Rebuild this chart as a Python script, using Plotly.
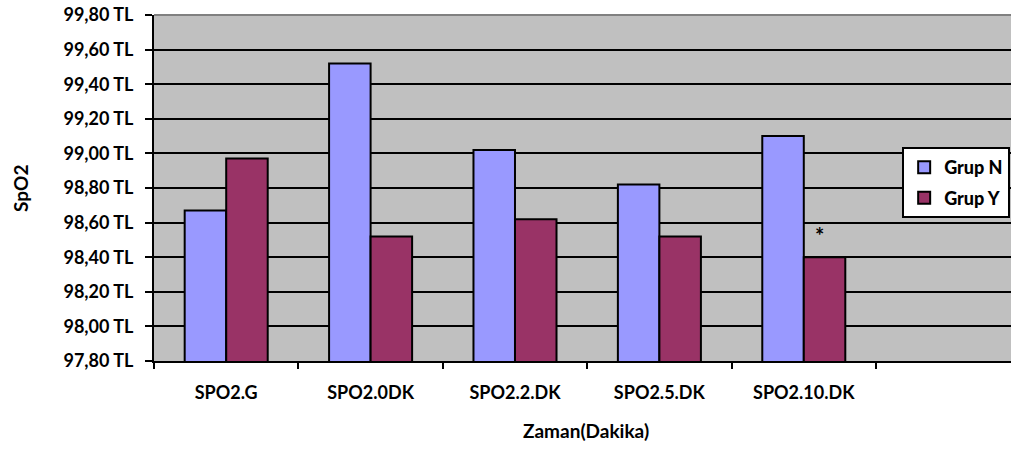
import plotly.graph_objects as go

categories = ["SPO2.G", "SPO2.0DK", "SPO2.2.DK", "SPO2.5.DK", "SPO2.10.DK"]
grup_n = [98.67, 99.52, 99.02, 98.82, 99.10]
grup_y = [98.97, 98.52, 98.62, 98.52, 98.40]
y_tick_vals = [97.8, 98.0, 98.2, 98.4, 98.6, 98.8, 99.0, 99.2, 99.4, 99.6, 99.8]
y_tick_text = ["97,80 TL", "98,00 TL", "98,20 TL", "98,40 TL", "98,60 TL", "98,80 TL",
               "99,00 TL", "99,20 TL", "99,40 TL", "99,60 TL", "99,80 TL"]
star_category = "SPO2.10.DK"

FONT = "Lato"
fs = 18

fig = go.Figure()
fig.add_trace(go.Bar(name="Grup N", x=categories, y=grup_n, legendgroup="n",
                     marker=dict(color="#9999FF", line=dict(color="black", width=2))))
fig.add_trace(go.Bar(name="Grup Y", x=categories, y=grup_y, legendgroup="y",
                     marker=dict(color="#993366", line=dict(color="black", width=2))))

star_idx = categories.index(star_category)
fig.add_annotation(x=star_idx + 0.11, y=grup_y[star_idx], xref="x", yref="y",
                   text="<b>*</b>", showarrow=False, yanchor="bottom", yshift=6,
                   font=dict(family=FONT, size=22, color="black"))

fig.add_annotation(x=-0.1564, y=0.5, xref="paper", yref="paper", text="<b>SpO2</b>",
                   textangle=-90, showarrow=False, xanchor="center", yanchor="middle",
                   font=dict(family=FONT, size=19, color="black"))
fig.add_annotation(x=0.504, y=-0.2, xref="paper", yref="paper", text="<b>Zaman(Dakika)</b>",
                   showarrow=False, xanchor="center", yanchor="middle",
                   font=dict(family=FONT, size=19, color="black"))

fig.add_shape(type="line", xref="paper", yref="paper", x0=0, x1=1, y0=1, y1=1,
              line=dict(color="#808080", width=2))

fig.update_layout(
    width=1011, height=449,
    margin=dict(l=154, r=0, t=15, b=88),
    paper_bgcolor="white", plot_bgcolor="#C0C0C0",
    barmode="group", bargap=0.425, bargroupgap=0,
    font=dict(family=FONT, size=fs, color="black"),
    showlegend=True,
    legend=dict(x=0.873, y=0.618, xanchor="left", yanchor="top",
                bgcolor="white", bordercolor="black", borderwidth=2,
                font=dict(family=FONT, size=fs, color="black", weight=900),
                itemwidth=30, tracegroupgap=4, traceorder="grouped"),
)
fig.update_xaxes(type="category", range=[-0.5, 5.435], tickson="boundaries",
                 ticks="outside", ticklen=6, tickwidth=2, tickcolor="black",
                 showline=True, linecolor="black", linewidth=2, showgrid=False,
                 ticklabelstandoff=14,
                 tickfont=dict(family=FONT, size=fs, color="black", weight="bold"))
fig.update_yaxes(range=[97.8, 99.8], tickvals=y_tick_vals, ticktext=y_tick_text,
                 ticks="outside", ticklen=7, tickwidth=2, tickcolor="black",
                 showline=True, linecolor="black", linewidth=2,
                 showgrid=True, gridcolor="black", gridwidth=2,
                 zeroline=False, ticklabelstandoff=8,
                 tickfont=dict(family=FONT, size=fs, color="black", weight="bold"))

fig.write_html("out.html", config={"displayModeBar": False},
               post_script="document.body.style.margin='0';")
